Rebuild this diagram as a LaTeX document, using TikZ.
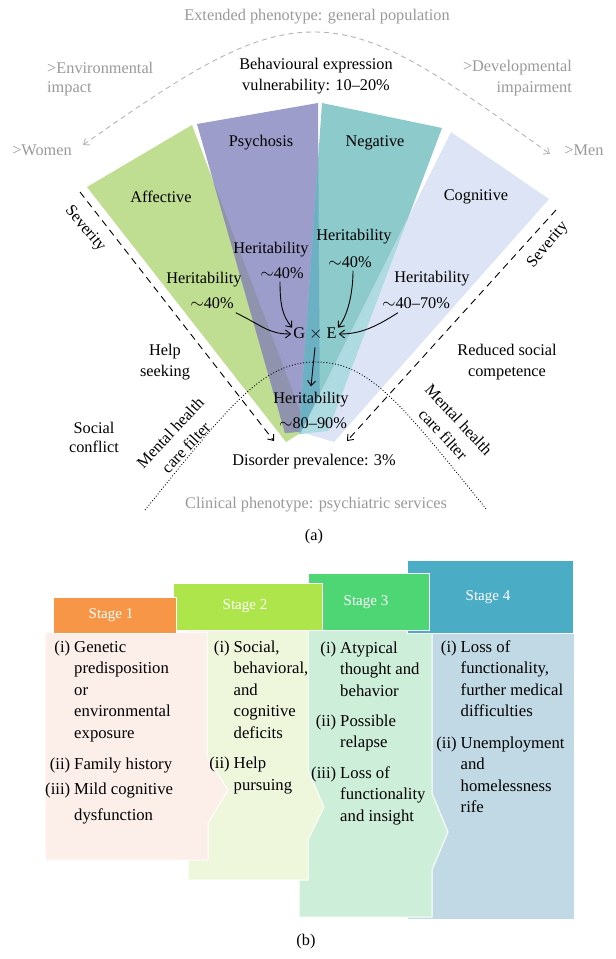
\documentclass[tikz,border=0pt]{standalone}
\usepackage{fontspec}
\setmainfont{Liberation Serif}
\usetikzlibrary{arrows.meta}
\begin{document}
\begin{tikzpicture}[x=1pt,y=-1pt,
  every node/.style={font=\fontsize{16.3}{21.5}\selectfont, inner sep=0pt},
  lbl/.style={text=black},
  glbl/.style={text=grayTxt},
  arr/.style={-{Straight Barb[length=5pt,width=8pt]}, line width=0.9pt, black},
  sevline/.style={dash pattern=on 7pt off 5pt, line width=0.9pt, -{Straight Barb[length=5pt,width=8pt]}},
  graydash/.style={draw=grayLine, dash pattern=on 5pt off 4pt, line width=0.9pt, {Straight Barb[length=5pt,width=8pt]}-{Straight Barb[length=5pt,width=8pt]}},
  dotline/.style={dotted, line width=0.9pt},
  hdr/.style={draw=white, line width=1pt},
  hdrtxt/.style={text=white, font=\fontsize{15}{18}\selectfont},
  bodyshape/.style={draw=white, line width=1pt},
  listtxt/.style={font=\fontsize{16.7}{21.5}\selectfont},
]
\definecolor{grayTxt}{HTML}{9A9A9A}
\definecolor{grayLine}{HTML}{B5B5B5}
\definecolor{cAff}{HTML}{C0DE92}
\definecolor{cPsy}{HTML}{9D9DCC}
\definecolor{cNeg}{HTML}{8DCACB}
\definecolor{cCog}{HTML}{DCE4F5}
\definecolor{cAP}{HTML}{8F93AE}
\definecolor{cPN}{HTML}{6CB0C3}
\definecolor{cNC}{HTML}{AEDAE1}
\definecolor{cPC}{HTML}{9FB3D6}
\definecolor{cAC}{HTML}{C8DDB8}
\definecolor{hOne}{HTML}{F79646}
\definecolor{bOne}{HTML}{FCEEE9}
\definecolor{hTwo}{HTML}{ADE54B}
\definecolor{bTwo}{HTML}{EEF7DB}
\definecolor{hThree}{HTML}{4DD673}
\definecolor{bThree}{HTML}{CDEFD9}
\definecolor{hFour}{HTML}{4BACC6}
\definecolor{bFour}{HTML}{C0D9E4}

\useasboundingbox[fill=white] (0,0) rectangle (616,959);

% ---------- fan ----------
\coordinate (a1) at (87,187);  \coordinate (a2) at (192,125);
\coordinate (a3) at (307,429); \coordinate (a4) at (286,442);
\coordinate (p1) at (197,124); \coordinate (p2) at (318,103);
\coordinate (p3) at (320,430); \coordinate (p4) at (285,433);
\coordinate (n1) at (322,103); \coordinate (n2) at (442,128);
\coordinate (n3) at (328,431); \coordinate (n4) at (299,434);
\coordinate (c1) at (451,132); \coordinate (c2) at (549,199);
\coordinate (c3) at (334,442); \coordinate (c4) at (301,432);

\fill[cAff] (a1)--(a2)--(a3)--(a4)--cycle;
\fill[cPsy] (p1)--(p2)--(p3)--(p4)--cycle;
\fill[cNeg] (n1)--(n2)--(n3)--(n4)--cycle;
\fill[cCog] (c1)--(c2)--(c3)--(c4)--cycle;
\begin{scope}
  \clip (a1)--(a2)--(a3)--(a4)--cycle;
  \fill[cAC] (c1)--(c2)--(c3)--(c4)--cycle;
  \fill[cAP] (p1)--(p2)--(p3)--(p4)--cycle;
\end{scope}
\begin{scope}
  \clip (p1)--(p2)--(p3)--(p4)--cycle;
  \fill[cPC] (c1)--(c2)--(c3)--(c4)--cycle;
  \fill[cPN] (n1)--(n2)--(n3)--(n4)--cycle;
\end{scope}
\begin{scope}
  \clip (n1)--(n2)--(n3)--(n4)--cycle;
  \fill[cNC] (c1)--(c2)--(c3)--(c4)--cycle;
\end{scope}

% dotted clinical arc
\coordinate (dL) at (145,510); \coordinate (dTop) at (316,362); \coordinate (dR) at (487,510);
\draw[dotline] (dL) .. controls (230,405) and (262,362) .. (dTop) .. controls (370,362) and (402,405) .. (dR);

% gray dashed extended arc
\coordinate (gL) at (83,145); \coordinate (gTop) at (314,32); \coordinate (gR) at (550,154);
\draw[graydash] (gL) .. controls (190,70) and (250,32) .. (gTop) .. controls (380,32) and (440,75) .. (gR);

% severity dashed arrows
\coordinate (sL0) at (80,192); \coordinate (sL1) at (274,441);
\coordinate (sR0) at (556,210); \coordinate (sR1) at (347,441);
\draw[sevline] (sL0) -- (sL1);
\draw[sevline] (sR0) -- (sR1);

% texts (a)
\node[glbl] (ext) at (317,17) {Extended phenotype: general population};
\node[glbl, anchor=west] (env1) at (47,68) {>Environmental};
\node[glbl, anchor=west] (env2) at (47,89) {impact};
\node[glbl, anchor=east] (dev1) at (572,68) {>Developmental};
\node[glbl, anchor=east] (dev2) at (572,89) {impairment};
\node[lbl, align=center] (beh) at (316,76) {Behavioural expression\\vulnerability: 10\textendash20\%};
\node[glbl] (women) at (42,150) {>Women};
\node[glbl] (men) at (584,150) {>Men};

\node (lAff) at (161,197) {Affective};
\node (lPsy) at (261,143) {Psychosis};
\node (lNeg) at (375,143) {Negative};
\node (lCog) at (476,197) {Cognitive};

\node[rotate=-50] (sevL) at (85,229) {Severity};
\node[rotate=50] (sevR) at (548,245) {Severity};

\node (hA1) at (204,280) {Heritability};
\node (hA2) at (212,303) {$\sim$40\%};
\node (hP1) at (271,250) {Heritability};
\node (hP2) at (282,273) {$\sim$40\%};
\node (hN1) at (354,237) {Heritability};
\node (hN2) at (350,262) {$\sim$40\%};
\node (hC1) at (432,279) {Heritability};
\node (hC2) at (416,303) {$\sim$40\textendash70\%};

\node (gxe) at (315,334) {G $\times$ E};

\node (h81) at (311,400) {Heritability};
\node (h82) at (313,423) {$\sim$80\textendash90\%};

\draw[arr] ([xshift=2pt,yshift=-4pt]hA2.south east) .. controls +(28,14) and +(-22,0) .. ([xshift=-2pt]gxe.west);
\draw[arr] ([xshift=-2pt,yshift=-3pt]hP2.south) .. controls +(0,22) and +(-10,-12) .. ([xshift=-1pt]gxe.north west);
\draw[arr] ([xshift=3pt,yshift=-3pt]hN2.south) .. controls +(0,22) and +(10,-12) .. ([xshift=1pt]gxe.north east);
\draw[arr] ([xshift=16pt,yshift=-4pt]hC2.south west) .. controls +(-22,14) and +(22,0) .. ([xshift=2pt]gxe.east);
\draw[arr] ([yshift=-7pt]gxe.south) -- ([yshift=6pt]h81.north);

\node[align=center] (help) at (165,362) {Help\\seeking};
\node[align=center] (red) at (507,362) {Reduced social\\competence};
\node[align=center, font=\fontsize{16.3}{19}\selectfont] (soc) at (94,437) {Social\\conflict};
\node[align=center, rotate=47] (mhL) at (178,440) {Mental health\\care filter};
\node[align=center, rotate=-47] (mhR) at (451,427) {Mental health\\care filter};

\node (dis) at (314,462) {Disorder prevalence: 3\%};
\node[glbl] (clin) at (316,505) {Clinical phenotype: psychiatric services};
\node (capA) at (314,537) {(a)};

% ---------- (b) stages ----------
\filldraw[bodyshape, fill=bFour] (407,633) -- (574,633) -- (574,919) -- (407,919) -- cycle;
\filldraw[bodyshape, fill=bThree] (299,630) -- (432,630) -- (432,793) -- (448,832) -- (432,870) -- (432,917) -- (299,917) -- cycle;
\filldraw[bodyshape, fill=bTwo] (188,630) -- (308,630) -- (308,770) -- (324,807) -- (308,840) -- (308,880) -- (188,880) -- cycle;
\filldraw[bodyshape, fill=bOne] (45,632) -- (207,632) -- (207,757) -- (228,790) -- (208,823) -- (208,860) -- (45,860) -- cycle;

\filldraw[hdr, fill=hFour] (407,560) rectangle (573,633);
\filldraw[hdr, fill=hThree] (308,573) rectangle (429,630);
\filldraw[hdr, fill=hTwo] (173,583) rectangle (322,630);
\filldraw[hdr, fill=hOne] (53,597) rectangle (176,633);
\node[hdrtxt] (st1) at (111,615) {Stage 1};
\node[hdrtxt] (st2) at (245,606) {Stage 2};
\node[hdrtxt] (st3) at (366,602) {Stage 3};
\node[hdrtxt] (st4) at (488,597) {Stage 4};

\node[listtxt, anchor=base west] (l1) at (45,652) {\begin{tabular}[t]{@{}r@{\hspace{4pt}}l@{}}
\makebox[25pt][r]{(i)} & Genetic\\ & predisposition\\ & or\\ & environmental\\ & exposure\\[9.5pt]
(ii) & Family history\\[4pt]
(iii) & Mild cognitive\\[4pt] & dysfunction
\end{tabular}};
\node[listtxt, anchor=base west] (l2) at (209,652) {\begin{tabular}[t]{@{}r@{\hspace{4pt}}l@{}}
\makebox[20.5pt][r]{(i)} & Social,\\ & behavioral,\\ & and\\ & cognitive\\ & deficits\\[9pt]
(ii) & Help\\ & pursuing
\end{tabular}};
\node[listtxt, anchor=base west] (l3) at (311,653) {\begin{tabular}[t]{@{}r@{\hspace{4pt}}l@{}}
\makebox[25pt][r]{(i)} & Atypical\\ & thought and\\ & behavior\\[8.5pt]
(ii) & Possible\\ & relapse\\[9pt]
(iii) & Loss of\\ & functionality\\ & and insight
\end{tabular}};
\node[listtxt, anchor=base west] (l4) at (436,652) {\begin{tabular}[t]{@{}r@{\hspace{4pt}}l@{}}
\makebox[20.5pt][r]{(i)} & Loss of\\ & functionality,\\ & further medical\\ & difficulties\\[10pt]
(ii) & Unemployment\\ & and\\ & homelessness\\ & rife
\end{tabular}};

\node (capB) at (306,942) {(b)};
\end{tikzpicture}
\end{document}
